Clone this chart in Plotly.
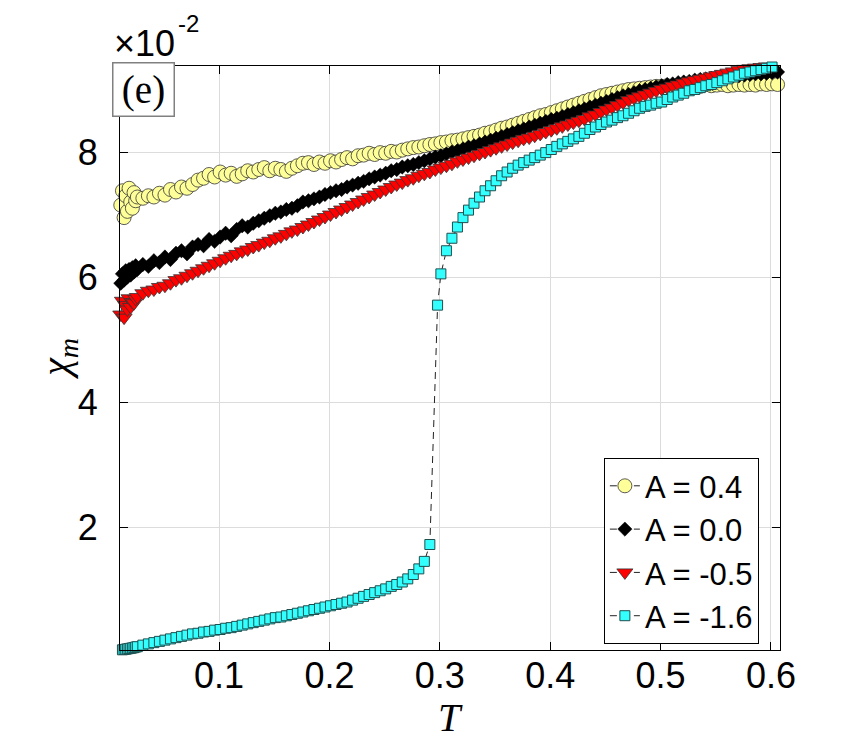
import plotly.graph_objects as go

# ---- data (chi_m in units of 1e-2) ----
T = [0.011, 0.0125, 0.014, 0.0155, 0.017, 0.0185, 0.020, 0.0215, 0.023, 0.0245, 0.026,
     0.031, 0.036, 0.041, 0.046, 0.051, 0.056, 0.061, 0.066, 0.071, 0.076,
     0.081, 0.086, 0.091, 0.096, 0.101, 0.106, 0.111, 0.116, 0.121, 0.126,
     0.131, 0.136, 0.141, 0.146, 0.151, 0.156, 0.161, 0.166, 0.171, 0.176,
     0.181, 0.186, 0.191, 0.196, 0.201, 0.206, 0.211, 0.216, 0.221, 0.226,
     0.231, 0.236, 0.241, 0.246, 0.251, 0.256, 0.261, 0.266, 0.271, 0.276,
     0.281, 0.286, 0.291, 0.296, 0.301, 0.306, 0.311, 0.316, 0.321, 0.326,
     0.331, 0.336, 0.341, 0.346, 0.351, 0.356, 0.361, 0.366, 0.371, 0.376,
     0.381, 0.386, 0.391, 0.396, 0.401, 0.406, 0.411, 0.416, 0.421, 0.426,
     0.431, 0.436, 0.441, 0.446, 0.451, 0.456, 0.461, 0.466, 0.471, 0.476,
     0.481, 0.486, 0.491, 0.496, 0.501, 0.506, 0.511, 0.516, 0.521, 0.526,
     0.531, 0.536, 0.541, 0.546, 0.551, 0.556, 0.561, 0.566, 0.571, 0.576,
     0.581, 0.586, 0.591, 0.596, 0.601, 0.606]

T_cyan = [0.011, 0.0125, 0.014, 0.0155, 0.017, 0.0185, 0.020, 0.0215, 0.023, 0.0245, 0.026,
          0.031, 0.036, 0.041, 0.046, 0.051, 0.056, 0.061, 0.066, 0.071, 0.076,
          0.081, 0.086, 0.091, 0.096, 0.101, 0.106, 0.111, 0.116, 0.121, 0.126,
          0.131, 0.136, 0.141, 0.146, 0.151, 0.156, 0.161, 0.166, 0.171, 0.176,
          0.181, 0.186, 0.191, 0.196, 0.201, 0.206, 0.211, 0.216, 0.221, 0.226,
          0.231, 0.236, 0.241, 0.246, 0.251, 0.256, 0.261, 0.266, 0.271, 0.276,
          0.281, 0.286, 0.291, 0.298, 0.301, 0.306, 0.311, 0.316, 0.321, 0.326,
          0.331, 0.336, 0.341, 0.346, 0.351, 0.356, 0.361, 0.366, 0.371, 0.376,
          0.381, 0.386, 0.391, 0.396, 0.401, 0.406, 0.411, 0.416, 0.421, 0.426,
          0.431, 0.436, 0.441, 0.446, 0.451, 0.456, 0.461, 0.466, 0.471, 0.476,
          0.481, 0.486, 0.491, 0.496, 0.501, 0.506, 0.511, 0.516, 0.521, 0.526,
          0.531, 0.536, 0.541, 0.546, 0.551, 0.556, 0.561, 0.566, 0.571, 0.576,
          0.581, 0.586, 0.591, 0.596, 0.601, 0.606]

chi_A04 = [7.15, 7.38, 6.95, 7.30, 7.05, 7.42, 7.20, 7.10, 7.35, 7.22, 7.28,
           7.26, 7.30, 7.28, 7.34, 7.31, 7.40, 7.36, 7.44, 7.42, 7.48,
           7.55, 7.58, 7.64, 7.60, 7.68, 7.63, 7.66, 7.61, 7.65, 7.70,
           7.68, 7.72, 7.75, 7.70, 7.74, 7.72, 7.69, 7.74, 7.78, 7.82,
           7.83, 7.80, 7.84, 7.82, 7.86, 7.84, 7.88, 7.91, 7.89, 7.94,
           7.95, 7.98, 7.96, 7.99, 7.98, 8.01, 8.00, 8.03, 8.05, 8.07,
           8.08, 8.10, 8.12, 8.13, 8.15, 8.16, 8.18, 8.19, 8.21, 8.23,
           8.25, 8.27, 8.30, 8.32, 8.35, 8.38, 8.40, 8.43, 8.46, 8.49,
           8.52, 8.55, 8.58, 8.60, 8.63, 8.66, 8.69, 8.72, 8.75, 8.78,
           8.81, 8.84, 8.87, 8.90, 8.92, 8.94, 8.96, 8.98, 9.00, 9.01,
           9.02, 9.03, 9.04, 9.05, 9.05, 9.06, 9.04, 9.07, 9.05, 9.06,
           9.07, 9.05, 9.08, 9.06, 9.07, 9.08, 9.06, 9.07, 9.08, 9.07,
           9.08, 9.07, 9.09, 9.08, 9.09, 9.08]

chi_A00 = [5.90, 6.05, 5.95, 6.10, 6.00, 6.12, 6.03, 6.15, 6.08, 6.18, 6.12,
           6.20, 6.17, 6.26, 6.23, 6.32, 6.28, 6.38, 6.42, 6.37, 6.48,
           6.52, 6.50, 6.60, 6.57, 6.64, 6.70, 6.66, 6.76, 6.82, 6.80,
           6.86, 6.90, 6.94, 6.98, 7.02, 7.04, 7.08, 7.10, 7.14, 7.20,
           7.22, 7.25, 7.28, 7.32, 7.35, 7.38, 7.40, 7.44, 7.47, 7.50,
           7.53, 7.57, 7.60, 7.63, 7.66, 7.70, 7.72, 7.76, 7.78, 7.80,
           7.83, 7.86, 7.89, 7.92, 7.94, 7.97, 8.00, 8.02, 8.05, 8.08,
           8.10, 8.13, 8.16, 8.19, 8.22, 8.25, 8.28, 8.31, 8.34, 8.37,
           8.40, 8.43, 8.46, 8.49, 8.52, 8.54, 8.57, 8.60, 8.63, 8.66,
           8.69, 8.72, 8.75, 8.78, 8.81, 8.84, 8.87, 8.90, 8.92, 8.95,
           8.98, 9.00, 9.02, 9.04, 9.06, 9.08, 9.09, 9.11, 9.12, 9.13,
           9.15, 9.16, 9.17, 9.18, 9.19, 9.20, 9.21, 9.22, 9.22, 9.23,
           9.24, 9.25, 9.25, 9.26, 9.27, 9.28]

chi_Am05 = [5.40, 5.62, 5.35, 5.55, 5.48, 5.66, 5.52, 5.60, 5.58, 5.65, 5.68,
            5.74, 5.78, 5.80, 5.84, 5.86, 5.90, 5.95, 5.98, 6.02, 6.06,
            6.10, 6.14, 6.18, 6.22, 6.26, 6.30, 6.34, 6.37, 6.41, 6.44,
            6.48, 6.51, 6.55, 6.58, 6.62, 6.65, 6.69, 6.73, 6.76, 6.80,
            6.84, 6.88, 6.92, 6.96, 7.00, 7.04, 7.08, 7.12, 7.16, 7.20,
            7.24, 7.28, 7.32, 7.36, 7.40, 7.44, 7.48, 7.51, 7.55, 7.58,
            7.62, 7.65, 7.68, 7.72, 7.75, 7.78, 7.81, 7.85, 7.88, 7.91,
            7.94, 7.97, 8.00, 8.03, 8.06, 8.09, 8.12, 8.15, 8.18, 8.21,
            8.23, 8.26, 8.29, 8.32, 8.35, 8.38, 8.41, 8.44, 8.47, 8.50,
            8.53, 8.57, 8.60, 8.64, 8.68, 8.71, 8.75, 8.79, 8.83, 8.86,
            8.89, 8.92, 8.95, 8.98, 9.01, 9.03, 9.06, 9.08, 9.11, 9.13,
            9.15, 9.17, 9.19, 9.21, 9.23, 9.25, 9.27, 9.29, 9.31, 9.33,
            9.34, 9.35, 9.36, 9.37, 9.38, 9.39]

chi_Am16 = [0.03, 0.035, 0.04, 0.045, 0.05, 0.055, 0.06, 0.065, 0.07, 0.08, 0.085,
            0.11, 0.13, 0.15, 0.17, 0.19, 0.21, 0.23, 0.25, 0.27, 0.29,
            0.30, 0.32, 0.33, 0.35, 0.36, 0.38, 0.39, 0.41, 0.43, 0.45,
            0.47, 0.49, 0.51, 0.53, 0.55, 0.56, 0.58, 0.60, 0.62, 0.64,
            0.66, 0.68, 0.70, 0.72, 0.74, 0.76, 0.78, 0.80, 0.83, 0.86,
            0.89, 0.92, 0.95, 0.98, 1.01, 1.05, 1.08, 1.12, 1.17, 1.24,
            1.33, 1.45, 1.72, 5.55, 6.05, 6.42, 6.62, 6.80, 6.95, 7.07,
            7.18, 7.28, 7.38, 7.46, 7.54, 7.62, 7.68, 7.74, 7.79, 7.83,
            7.87, 7.91, 7.95, 7.99, 8.04, 8.09, 8.13, 8.17, 8.21, 8.25,
            8.30, 8.36, 8.40, 8.44, 8.48, 8.51, 8.55, 8.58, 8.62, 8.66,
            8.70, 8.73, 8.75, 8.78, 8.80, 8.84, 8.88, 8.91, 8.94, 8.98,
            9.00, 9.03, 9.06, 9.08, 9.11, 9.14, 9.17, 9.20, 9.23, 9.26,
            9.28, 9.30, 9.32, 9.34, 9.36, 9.38]

labels = ["A = 0.4", "A = 0.0", "A = -0.5", "A = -1.6"]
x_ticks = [0.1, 0.2, 0.3, 0.4, 0.5, 0.6]
y_ticks = [2, 4, 6, 8]

# ---- figure ----
LINE = dict(color="#222222", width=1, dash="7px,5px")
series = [
    (T, chi_A04, labels[0], dict(symbol="circle", size=14, color="#FFFF99",
                                 line=dict(color="#333333", width=0.8))),
    (T, chi_A00, labels[1], dict(symbol="diamond", size=11, color="#000000",
                                 line=dict(color="#000000", width=0.5))),
    (T, chi_Am05, labels[2], dict(symbol="triangle-down", size=14, color="#FF0000",
                                  line=dict(color="#333333", width=0.8))),
    (T_cyan, chi_Am16, labels[3], dict(symbol="square", size=10, color="#33FFFF",
                                       line=dict(color="#1F4F4F", width=1))),
]

fig = go.Figure()
for xs, ys, name, mk in series:
    fig.add_trace(go.Scatter(x=xs, y=ys, name=name, mode="lines+markers",
                             line=LINE, marker=mk, cliponaxis=False))

axis_common = dict(
    showline=True, linecolor="black", linewidth=1.2, mirror="ticks",
    ticks="inside", ticklen=8, tickcolor="black", tickwidth=1,
    showgrid=True, gridcolor="#DCDCDC", gridwidth=1, zeroline=False,
    tickfont=dict(family="Liberation Sans, Arial", size=36, color="black"),
)

fig.update_layout(
    width=854, height=750,
    margin=dict(l=112, r=82, t=58, b=108),
    paper_bgcolor="white", plot_bgcolor="white",
    showlegend=True,
    legend=dict(x=0.968, y=0.010, xanchor="right", yanchor="bottom",
                bgcolor="white", bordercolor="black", borderwidth=1,
                font=dict(family="Liberation Sans, Arial", size=31, color="black"),
                tracegroupgap=0, itemwidth=30),
    xaxis=dict(range=[0.0103, 0.6082], tickvals=x_ticks,
               ticktext=[f"{v:.1f}" for v in x_ticks], ticklabelstandoff=-6,
               **axis_common),
    yaxis=dict(range=[0.032, 9.376], tickvals=y_ticks,
               ticktext=[str(v) for v in y_ticks], ticklabelstandoff=14,
               **axis_common),
    annotations=[
        dict(text="(e)", xref="paper", yref="paper", x=0.0015, y=0.995,
             xanchor="left", yanchor="top", xshift=-9, yshift=7, showarrow=False,
             font=dict(family="Liberation Serif, Times New Roman", size=39, color="black"),
             bordercolor="#808080", borderwidth=1.5, borderpad=2, bgcolor="white",
             width=56, height=48),
        dict(text="×10", xref="paper", yref="paper", x=0.0, y=1.0,
             xanchor="left", yanchor="bottom", xshift=-8, yshift=0, showarrow=False,
             font=dict(family="Liberation Sans, Arial", size=36, color="black")),
        dict(text="-2", xref="paper", yref="paper", x=0.085, y=1.072,
             xanchor="left", yanchor="middle", showarrow=False,
             font=dict(family="Liberation Sans, Arial", size=24, color="black")),
        dict(text="<i>T</i>", xref="paper", yref="paper", x=0.5, y=-0.115,
             xanchor="center", yanchor="middle", showarrow=False,
             font=dict(family="Liberation Serif, Times New Roman", size=40, color="black")),
        dict(text="<i>χ</i><sub><i>m</i></sub>", xref="paper", yref="paper",
             x=-0.093, y=0.498, xanchor="center", yanchor="middle", textangle=-90,
             showarrow=False,
             font=dict(family="Liberation Serif, Times New Roman", size=40, color="black")),
    ],
)

fig.write_html("out.html")
